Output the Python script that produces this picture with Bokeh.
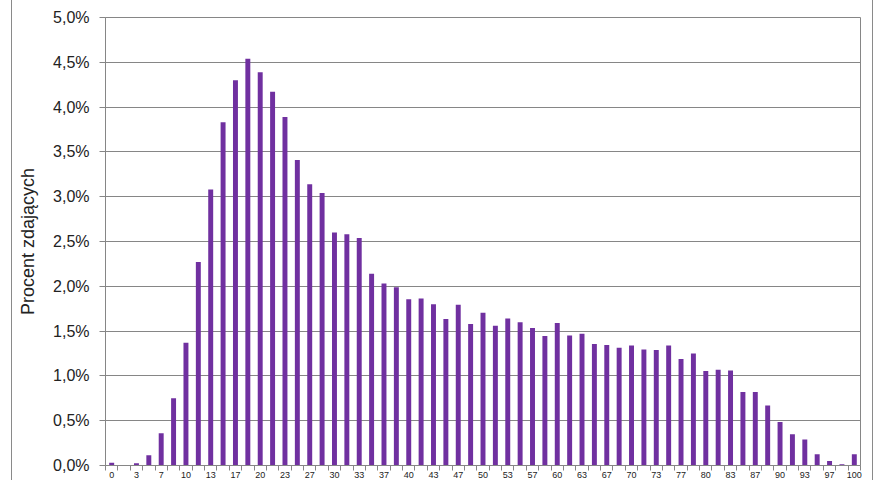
from bokeh.plotting import figure
from bokeh.models import ColumnDataSource, Range1d, FixedTicker
from bokeh.embed import file_html
from bokeh.resources import INLINE

# score categories (0..60 points) and percent of test takers
categories = list(range(61))
percent = [
    0.03, 0.00, 0.025, 0.115, 0.36, 0.75, 1.37, 2.27, 3.08, 3.83,
    4.30, 4.54, 4.39, 4.17, 3.89, 3.41, 3.14, 3.04, 2.60, 2.58,
    2.54, 2.14, 2.03, 1.99, 1.855, 1.865, 1.80, 1.635, 1.795, 1.58,
    1.705, 1.56, 1.64, 1.60, 1.535, 1.445, 1.59, 1.45, 1.47, 1.355,
    1.345, 1.315, 1.34, 1.295, 1.29, 1.34, 1.19, 1.25, 1.055, 1.07,
    1.06, 0.82, 0.82, 0.67, 0.485, 0.35, 0.29, 0.125, 0.05, 0.015,
    0.125,
]
x_tick_positions = list(range(0, 61, 2))
x_tick_labels = ["0", "3", "7", "10", "13", "17", "20", "23", "27", "30",
                 "33", "37", "40", "43", "47", "50", "53", "57", "60", "63",
                 "67", "70", "73", "77", "80", "83", "87", "90", "93", "97", "100"]
y_ticks = [0.0, 0.5, 1.0, 1.5, 2.0, 2.5, 3.0, 3.5, 4.0, 4.5, 5.0]
y_tick_labels = ["0,0%", "0,5%", "1,0%", "1,5%", "2,0%", "2,5%",
                 "3,0%", "3,5%", "4,0%", "4,5%", "5,0%"]
y_title = "Procent zdających"

FONT = "Liberation Sans"
GRID = "#868686"

source = ColumnDataSource(data=dict(x=categories, top=percent))

p = figure(width=862, height=480,
           x_range=Range1d(-0.5, 60.5), y_range=Range1d(0, 5),
           output_backend="svg", toolbar_location=None,
           min_border_left=93, min_border_right=14,
           min_border_top=17, min_border_bottom=0)
p.margin = (0, 0, 0, 11)
p.styles = {"border-left": "1px solid #8a8a8a", "border-right": "1px solid #8a8a8a"}

p.vbar(x="x", top="top", width=0.4, source=source,
       fill_color="#7030A0", line_color=None)

p.outline_line_color = GRID
p.outline_line_width = 1
p.background_fill_color = "white"
p.border_fill_color = "white"

# grid
p.xgrid.visible = False
p.ygrid.grid_line_color = GRID
p.ygrid.grid_line_width = 1

# y axis
p.yaxis.ticker = FixedTicker(ticks=y_ticks)
p.yaxis.major_label_overrides = {t: l for t, l in zip(y_ticks, y_tick_labels)}
p.yaxis.axis_label = y_title
p.yaxis.axis_label_text_font = FONT
p.yaxis.axis_label_text_font_size = "18px"
p.yaxis.axis_label_text_font_style = "normal"
p.yaxis.axis_label_text_color = "#222222"
p.yaxis.axis_label_standoff = 12
p.yaxis.major_label_text_font = FONT
p.yaxis.major_label_text_font_size = "16px"
p.yaxis.major_label_text_color = "#222222"
p.yaxis.major_label_standoff = 10
p.yaxis.major_tick_out = 6
p.yaxis.major_tick_in = 0
p.yaxis.minor_tick_line_color = None
p.yaxis.axis_line_color = GRID
p.yaxis.major_tick_line_color = GRID

# x axis
minor = [i - 0.5 for i in range(62)]
p.xaxis.ticker = FixedTicker(ticks=x_tick_positions, minor_ticks=minor)
p.xaxis.major_label_overrides = {t: l for t, l in zip(x_tick_positions, x_tick_labels)}
p.xaxis.major_label_text_font = FONT
p.xaxis.major_label_text_font_size = "9px"
p.xaxis.major_label_text_color = "#222222"
p.xaxis.major_label_standoff = 1
p.xaxis.major_tick_line_color = None
p.xaxis.major_tick_out = 5
p.xaxis.major_tick_in = 0
p.xaxis.minor_tick_line_color = GRID
p.xaxis.minor_tick_out = 5
p.xaxis.minor_tick_in = 0
p.xaxis.axis_line_color = GRID

open("out.html", "w").write(file_html(p, INLINE))
